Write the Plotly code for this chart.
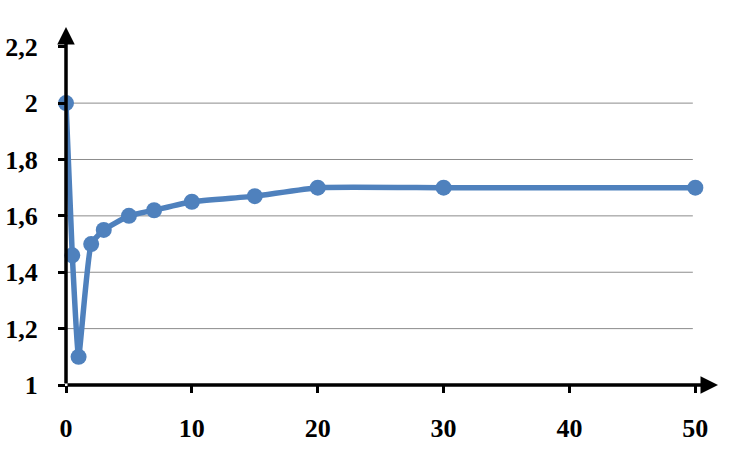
import plotly.graph_objects as go

x_vals = [0, 0.5, 1, 2, 3, 5, 7, 10, 15, 20, 30, 50]
y_vals = [2.0, 1.46, 1.1, 1.5, 1.55, 1.6, 1.62, 1.65, 1.67, 1.7, 1.7, 1.7]
x_ticks = [0, 10, 20, 30, 40, 50]
y_ticks = [1, 1.2, 1.4, 1.6, 1.8, 2, 2.2]
grid_y = [1.2, 1.4, 1.6, 1.8, 2.0]

X_MAX = 51.8
Y_MAX = 2.27
color = "#4F81BD"
font = dict(family="'Liberation Serif', 'Times New Roman', serif", size=26, color="black", weight="bold")

fig = go.Figure()
fig.add_trace(go.Scatter(
    x=x_vals, y=y_vals, mode="lines+markers",
    line=dict(color=color, width=5.5, shape="spline", smoothing=0.4),
    marker=dict(color=color, size=16),
    cliponaxis=False, showlegend=False,
))

shapes = []
for g in grid_y:
    shapes.append(dict(type="line", xref="x", yref="y", x0=0, x1=49.8, y0=g, y1=g,
                       line=dict(color="#8c8c8c", width=1), layer="below"))

annotations = [
    dict(x=X_MAX, y=1, ax=0, ay=1, xref="x", yref="y", axref="x", ayref="y",
         showarrow=True, arrowhead=2, arrowsize=1, arrowwidth=3.5, arrowcolor="black", text=""),
    dict(x=0, y=Y_MAX, ax=0, ay=1, xref="x", yref="y", axref="x", ayref="y",
         showarrow=True, arrowhead=2, arrowsize=1, arrowwidth=3.5, arrowcolor="black", text=""),
]

fig.update_layout(
    width=734, height=463,
    margin=dict(l=66, r=16, t=27, b=78, autoexpand=False),
    plot_bgcolor="white", paper_bgcolor="white",
    separators=", ",
    font=font,
    shapes=shapes, annotations=annotations,
    xaxis=dict(range=[0, X_MAX], tickvals=x_ticks, showgrid=False, zeroline=False,
               showline=False, ticks="outside", ticklen=7, tickwidth=3, tickcolor="black",
               tickfont=font, ticklabelstandoff=13, automargin=False),
    yaxis=dict(range=[1, Y_MAX], tickvals=y_ticks, showgrid=False, zeroline=False,
               showline=False, ticks="outside", ticklen=7, tickwidth=3, tickcolor="black",
               tickfont=font, ticklabelstandoff=15, automargin=False),
)

fig.write_html("out.html", config={"displayModeBar": False},
               post_script="document.body.style.margin='0';")
